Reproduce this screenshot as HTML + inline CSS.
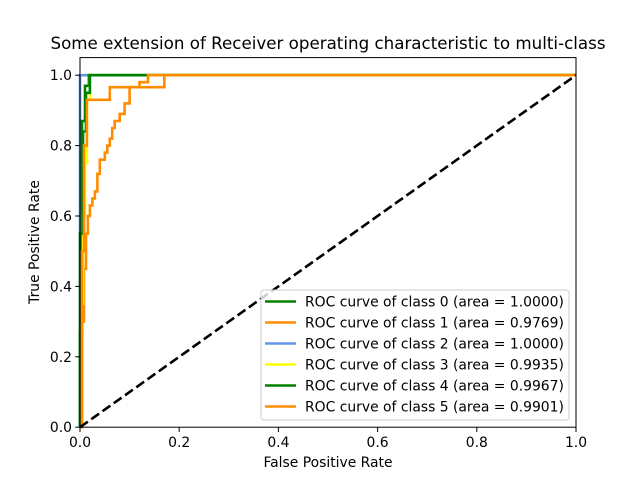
<!DOCTYPE html>
<html><head><meta charset="utf-8"><style>
body{margin:0;background:#fff}
svg{font-family:"DejaVu Sans","Liberation Sans",sans-serif}
</style></head><body>
<svg id="chart" width="640" height="480" viewBox="0 0 640 480">
<rect width="640" height="480" fill="#fff"/>
<text x="328" y="49" font-size="16.7" text-anchor="middle">Some extension of Receiver operating characteristic to multi-class</text>
<g id="curves"></g>
<rect x="80" y="57.6" width="496" height="369.6" fill="none" stroke="#000" stroke-width="1"/>
<g id="ticks"></g>
<text x="328" y="467" font-size="13.9" text-anchor="middle">False Positive Rate</text>
<text x="39" y="242" font-size="13.9" text-anchor="middle" transform="rotate(-90 39 242)">True Positive Rate</text>
<g id="legend"></g>
</svg>
<script>
const xTicks=[0,0.2,0.4,0.6,0.8,1.0];
const yTicks=[0,0.2,0.4,0.6,0.8,1.0];
const classNames=["ROC curve of class 0 (area = 1.0000)","ROC curve of class 1 (area = 0.9769)","ROC curve of class 2 (area = 1.0000)","ROC curve of class 3 (area = 0.9935)","ROC curve of class 4 (area = 0.9967)","ROC curve of class 5 (area = 0.9901)"];
const classColors=["green","darkorange","cornflowerblue","yellow","green","darkorange"];
const fpr0=[0,0,0.004,0.004,0.01,0.01,0.018,0.018,1];
const tpr0=[0,0.27,0.27,0.87,0.87,0.97,0.97,1,1];
const fpr1=[0,0.004,0.004,0.008,0.008,0.012,0.012,0.016,0.016,0.02,0.02,0.025,0.025,0.03,0.03,0.035,0.035,0.04,0.04,0.05,0.05,0.055,0.055,0.06,0.06,0.065,0.065,0.07,0.07,0.08,0.08,0.09,0.09,0.1,0.1,0.17,0.17,1];
const tpr1=[0,0,0.3,0.3,0.45,0.45,0.55,0.55,0.6,0.6,0.63,0.63,0.65,0.65,0.67,0.67,0.72,0.72,0.76,0.76,0.78,0.78,0.8,0.8,0.82,0.82,0.85,0.85,0.87,0.87,0.89,0.89,0.92,0.92,0.966,0.966,1,1];
const fpr2=[0,0,1];
const tpr2=[0,1,1];
const fpr3=[0,0.003,0.003,0.006,0.006,0.01,0.01,0.014,0.014,0.02,0.02,1];
const tpr3=[0,0,0.35,0.35,0.6,0.6,0.75,0.75,0.93,0.93,1,1];
const fpr4=[0,0,0.006,0.006,0.012,0.012,0.02,0.02,1];
const tpr4=[0,0.55,0.55,0.84,0.84,0.95,0.95,1,1];
const fpr5=[0,0.004,0.004,0.008,0.008,0.014,0.014,0.06,0.06,0.12,0.12,0.137,0.137,1];
const tpr5=[0,0,0.5,0.5,0.8,0.8,0.93,0.93,0.966,0.966,0.98,0.98,1,1];
const allFpr=[fpr0,fpr1,fpr2,fpr3,fpr4,fpr5];
const allTpr=[tpr0,tpr1,tpr2,tpr3,tpr4,tpr5];
const NS="http://www.w3.org/2000/svg";
const X=v=>80+v*496, Y=v=>427.2-v*352;
function mk(t,a,p){const e=document.createElementNS(NS,t);for(const k in a)e.setAttribute(k,a[k]);p.appendChild(e);return e;}
const cg=document.getElementById('curves');
const order=[2,0,1,3,4,5];
order.forEach(i=>{
  const d=allFpr[i].map((f,j)=>(j?'L':'M')+X(f).toFixed(1)+' '+Y(allTpr[i][j]).toFixed(1)).join(' ');
  const p=mk('path',{d:d,fill:'none',stroke:classColors[i],'stroke-width':2.6},cg);
  
  
});
const diag=mk('line',{x1:X(0),y1:Y(0),x2:X(1),y2:Y(1),stroke:'#000','stroke-width':2.6,'stroke-dasharray':'9.6,4.2'},cg);


const tg=document.getElementById('ticks');
xTicks.forEach(v=>{
  mk('line',{x1:X(v),y1:427.2,x2:X(v),y2:432,stroke:'#000'},tg);
  const t=mk('text',{x:X(v),y:447,'font-size':13.9,'text-anchor':'middle'},tg);t.textContent=v.toFixed(1);
  
  
});
yTicks.forEach(v=>{
  mk('line',{x1:75.2,y1:Y(v),x2:80,y2:Y(v),stroke:'#000'},tg);
  const t=mk('text',{x:72,y:Y(v)+5,'font-size':13.9,'text-anchor':'end'},tg);t.textContent=v.toFixed(1);
  
  
});
const lg=document.getElementById('legend');
const box=mk('rect',{x:261,y:290,width:308,height:130,rx:3,fill:'#fff','fill-opacity':0.8,stroke:'#ccc'},lg);


classNames.forEach((n,i)=>{
  const y=301.5+i*21;
  mk('line',{x1:265,y1:y,x2:296,y2:y,stroke:classColors[i],'stroke-width':2.6},lg);
  const t=mk('text',{x:305,y:y+5,'font-size':13.9},lg);t.textContent=n;
  
  
});
</script>
</body></html>
